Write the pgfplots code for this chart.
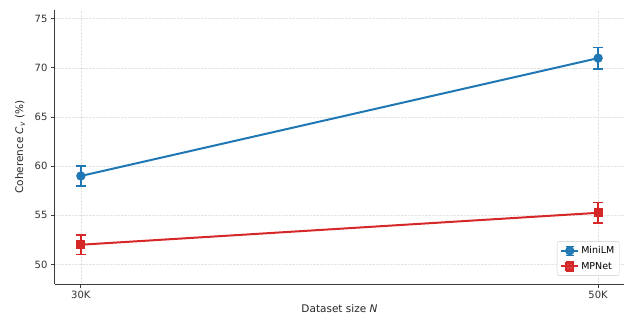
\documentclass[border=0pt]{standalone}
\usepackage{pgfplots}
\pgfplotsset{compat=1.18}
\usepackage{fontspec}
\setmainfont{DejaVu Sans}
\usetikzlibrary{calc}
\definecolor{tabblue}{RGB}{31,119,180}
\definecolor{tabred}{RGB}{214,39,40}
\definecolor{spine}{RGB}{60,60,60}
\pgfplotsset{
  errlegend/.style={legend image code/.code={
    \draw[mark repeat=2, mark phase=2, #1] plot coordinates {(0cm,0cm) (0.3cm,0cm) (0.6cm,0cm)};
    \draw[#1, line width=1.5pt, solid] (0.3cm,-4.5pt) -- (0.3cm,4.5pt);
    \draw[#1, line width=1.5pt, solid] (0.3cm-4pt,-4.5pt) -- (0.3cm+4pt,-4.5pt);
    \draw[#1, line width=1.5pt, solid] (0.3cm-4pt,4.5pt) -- (0.3cm+4pt,4.5pt);
  }}
}
\begin{document}
\begin{tikzpicture}
\begin{axis}[
  scale only axis,
  width=569pt, height=274pt,
  xmin=29, xmax=51, ymin=48, ymax=75.9,
  xtick={30,50}, xticklabels={30K,50K},
  ytick={50,55,...,75},
  axis x line*=bottom, axis y line*=left,
  axis line style={spine, line width=1pt, -},
  tick style={spine, line width=1pt},
  tick align=outside, major tick length=4pt,
  grid=major,
  grid style={densely dotted, gray!22, line width=0.7pt},
  tick label style={font=\fontsize{10}{12}\selectfont, text=black!80},
  label style={font=\fontsize{10.5}{12}\selectfont, text=black!85},
  xlabel={Dataset size \textit{N}},
  ylabel={Coherence \textit{C}\textsubscript{\textit{v}} (\%)},
  xlabel style={yshift=1pt},
  ylabel shift=3pt,
  /pgf/number format/assume math mode=true,
  legend style={at={(0.992,0.03)}, anchor=south east, font=\fontsize{9.5}{11}\selectfont,
    draw=gray!40, rounded corners=2pt, fill=white, fill opacity=0.85, text opacity=1,
    inner sep=3pt, row sep=3pt},
  legend cell align=left,
]
\addplot[color=tabblue, line width=2pt, mark=*, mark size=3.6pt,
  errlegend={tabblue},
  error bars/.cd, y dir=both, y explicit,
  error bar style={line width=1.5pt, tabblue},
  error mark options={rotate=90, mark size=5pt, line width=1.5pt, tabblue}]
  coordinates {(30,59.0) +- (0,1.0) (50,71.0) +- (0,1.1)};
\addlegendentry{MiniLM}
\addplot[color=tabred, line width=2pt, mark=square*, mark size=3.4pt,
  errlegend={tabred},
  error bars/.cd, y dir=both, y explicit,
  error bar style={line width=1.5pt, tabred},
  error mark options={rotate=90, mark size=5pt, line width=1.5pt, tabred}]
  coordinates {(30,52.0) +- (0,1.0) (50,55.25) +- (0,1.05)};
\addlegendentry{MPNet}
\end{axis}
\pgfresetboundingbox
\path ($(current axis.south west)+(-55pt,-39pt)$) rectangle ($(current axis.north east)+(0pt,10pt)$);
\end{tikzpicture}
\end{document}
